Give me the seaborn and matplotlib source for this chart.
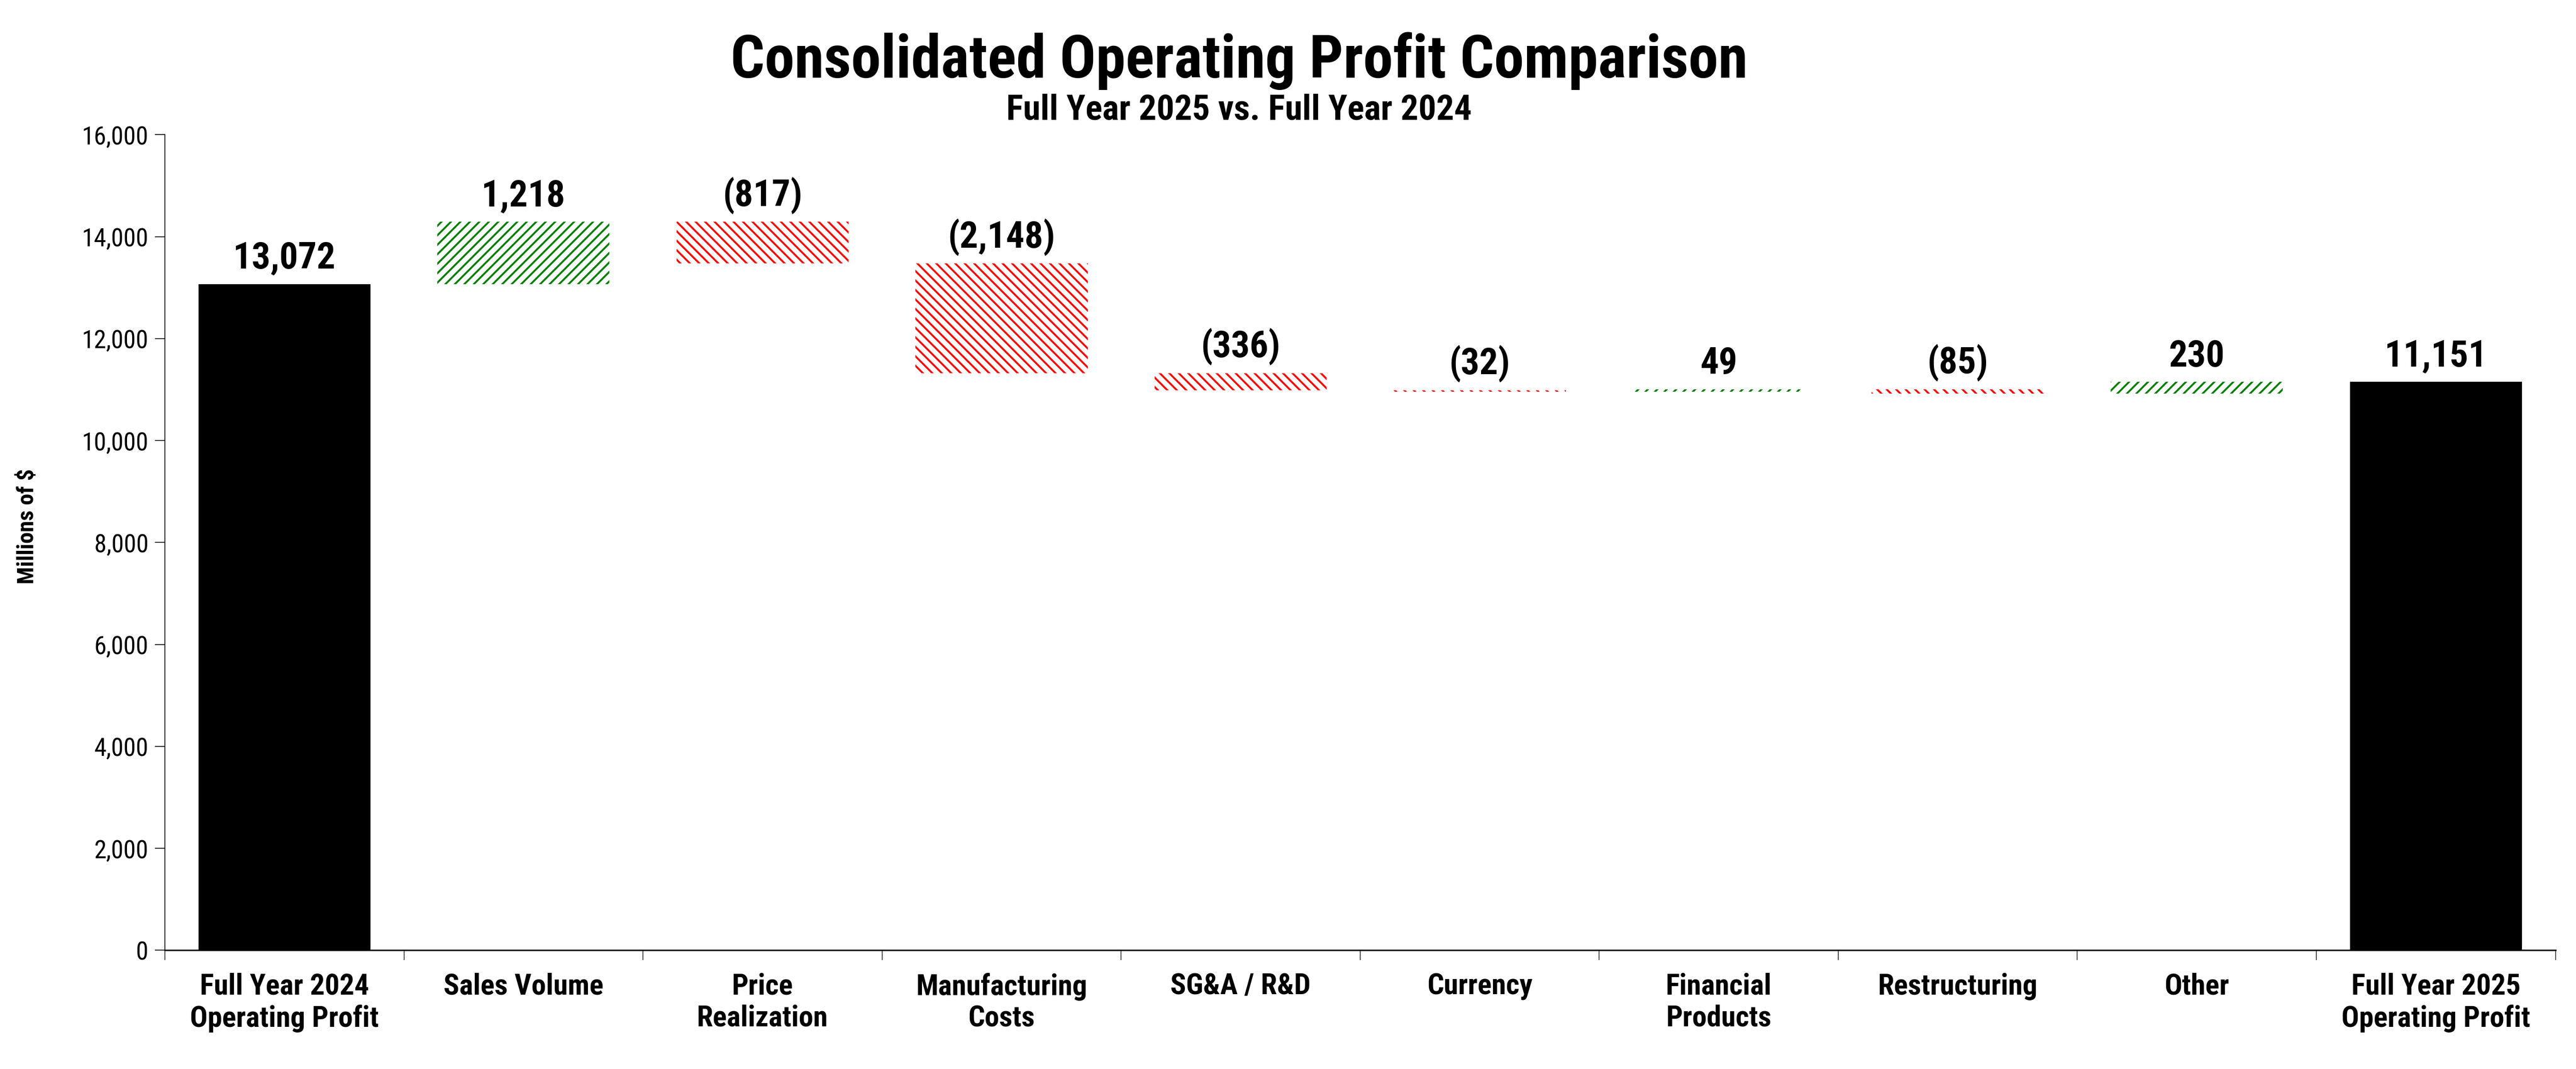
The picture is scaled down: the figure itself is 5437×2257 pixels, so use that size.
import numpy as np
import pandas as pd
import matplotlib
matplotlib.use('Agg')
import matplotlib.pyplot as plt
import seaborn as sns
from matplotlib.ticker import FuncFormatter

# data (millions of $)
categories = ['Full Year 2024\nOperating Profit', 'Sales Volume', 'Price\nRealization',
              'Manufacturing\nCosts', 'SG&A / R&D', 'Currency', 'Financial\nProducts',
              'Restructuring', 'Other', 'Full Year 2025\nOperating Profit']
changes = [13072, 1218, -817, -2148, -336, -32, 49, -85, 230, 11151]
kinds = ['total', 'step', 'step', 'step', 'step', 'step', 'step', 'step', 'step', 'total']
y_ticks = [0, 2000, 4000, 6000, 8000, 10000, 12000, 14000, 16000]

# waterfall: where each bar starts and how tall it is
running = 0
bottoms = []
heights = []
for v, k in zip(changes, kinds):
    if k == 'total':
        bottoms.append(0)
        heights.append(v)
        running = v
    else:
        bottoms.append(min(running, running + v))
        heights.append(abs(v))
        running += v

df = pd.DataFrame({'step': categories, 'height': heights, 'bottom': bottoms,
                   'change': changes, 'kind': kinds})


def fmt_label(v):
    return f'({abs(v):,})' if v < 0 else f'{v:,}'


DPI = 120
S = 100 / DPI  # font sizes below were worked out for 100 dpi

sns.set_style('ticks')
plt.rcParams['font.family'] = ['Roboto Condensed', 'DejaVu Sans']
plt.rcParams['text.color'] = 'black'
plt.rcParams['hatch.linewidth'] = 2.4

fig = plt.figure(figsize=(5437 / DPI, 2257 / DPI), dpi=DPI)
ax = fig.add_axes([0.064, 0.111, 0.928, 0.763])

sns.barplot(data=df, x='step', y='height', bottom=df['bottom'].values, color='black',
            width=0.72, errorbar=None, ax=ax)

# totals black, increases green hatch, decreases red hatch
for patch, k, v in zip(ax.patches, kinds, changes):
    patch.set_linewidth(0)
    if k == 'total':
        patch.set_facecolor('black')
        patch.set_edgecolor('black')
    else:
        col = '#008000' if v > 0 else '#ff0000'
        patch.set_facecolor('white')
        patch.set_edgecolor(col)
        patch.set_hatch('//' if v > 0 else '\\\\')

for i, row in df.iterrows():
    top = row['bottom'] + row['height']
    ax.annotate(fmt_label(row['change']), (i, top), xytext=(0, 12 * S), textcoords='offset points',
                ha='center', va='bottom', fontsize=56 * S, fontweight='bold')

ax.set_xlim(-0.5, 9.5)
ax.set_ylim(0, 16000)
ax.set_yticks(y_ticks)
ax.yaxis.set_major_formatter(FuncFormatter(lambda v, p: f'{int(v):,}'))
ax.set_xticks(np.arange(-0.5, 10, 1), minor=True)

ax.tick_params(axis='y', length=15 * S, width=1.2 * S, labelsize=38 * S, pad=10 * S, colors='black')
ax.tick_params(axis='x', which='major', length=0, pad=34 * S, labelsize=44.5 * S, colors='black')
ax.tick_params(axis='x', which='minor', length=15 * S, width=1.2 * S)
for lab in ax.get_xticklabels():
    lab.set_fontweight('bold')

sns.despine(ax=ax)
ax.spines['left'].set_linewidth(1.2 * S)
ax.spines['bottom'].set_linewidth(2.2 * S)
ax.spines['left'].set_color('black')
ax.spines['bottom'].set_color('black')

ax.set_xlabel('')
ax.set_ylabel('Millions of $', fontsize=35 * S, fontweight='bold', color='black')
ax.yaxis.set_label_coords(-0.053, 0.52)

fig.text(0.481, 0.943, 'Consolidated Operating Profit Comparison', ha='center', va='center',
         fontsize=91 * S, fontweight='bold')
fig.text(0.481, 0.897, 'Full Year 2025 vs. Full Year 2024', ha='center', va='center',
         fontsize=53.5 * S, fontweight='bold')

fig.savefig('out.png', dpi=DPI, facecolor='white')
